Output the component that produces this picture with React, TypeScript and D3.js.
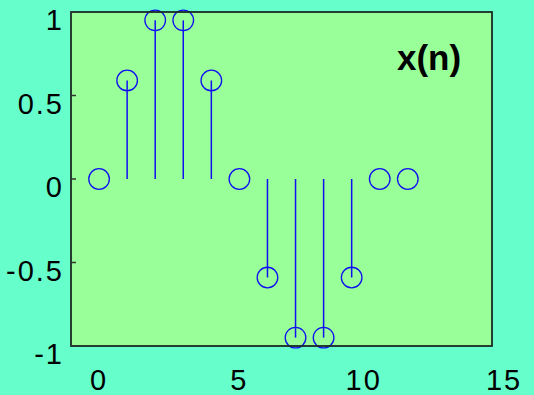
import React from "react";
import * as d3 from "d3";

const nValues = [0, 1, 2, 3, 4, 5, 6, 7, 8, 9, 10, 11];
const xValues = [0, 0.59, 0.95, 0.95, 0.59, 0, -0.59, -0.95, -0.95, -0.59, 0, 0];
const xTickValues = [0, 5, 10, 15];
const yTickValues = [-1, -0.5, 0, 0.5, 1];
const yTickLabels = ["-1", "-0.5", "0", "0.5", "1"];
const title = "x(n)";

const W = 534;
const H = 395;
const left = 71;
const right = 492;
const top = 12;
const bottom = 346;

export default function App() {
  const x = d3.scaleLinear().domain([-1, 14]).range([left, right]);
  const y = d3.scaleLinear().domain([-1, 1]).range([bottom, top]);
  const font = "'Liberation Sans', Arial, sans-serif";
  return (
    <svg
      width={W}
      height={H}
      style={{ position: "absolute", left: 0, top: 0, display: "block" }}
    >
      <rect x={0} y={0} width={W} height={H} fill="#66FFCC" />
      <rect x={left} y={top} width={right - left} height={bottom - top} fill="#99FF99" />
      {nValues.map((n, i) =>
        xValues[i] !== 0 ? (
          <line
            key={"s" + n}
            x1={x(n)}
            x2={x(n)}
            y1={y(0)}
            y2={y(xValues[i])}
            stroke="#1010F0"
            strokeWidth={1.5}
          />
        ) : null
      )}
      {nValues.map((n, i) => (
        <circle
          key={"c" + n}
          cx={x(n)}
          cy={y(xValues[i])}
          r={10.3}
          fill="none"
          stroke="#1010F0"
          strokeWidth={1.3}
        />
      ))}
      <rect
        x={left}
        y={top}
        width={right - left}
        height={bottom - top}
        fill="none"
        stroke="#1a2a22"
        strokeWidth={1.8}
      />
      {yTickValues.map((v) => (
        <line
          key={"yt" + v}
          x1={left}
          x2={left + 5}
          y1={y(v)}
          y2={y(v)}
          stroke="#333"
          strokeWidth={1.5}
        />
      ))}
      {yTickValues.map((v, i) => (
        <text
          key={"yl" + v}
          x={64}
          y={y(v) + 18}
          textAnchor="end"
          fontFamily={font}
          fontSize={29}
          letterSpacing={2}
          fill="#000"
        >
          {yTickLabels[i]}
        </text>
      ))}
      {xTickValues.map((v) => {
        const label = String(v);
        return (
          <text
            key={"xl" + v}
            x={x(v) - (label.length - 1) * 16}
            y={390}
            textAnchor="middle"
            fontFamily={font}
            fontSize={29}
            letterSpacing={2}
            fill="#000"
          >
            {label}
          </text>
        );
      })}
      <text
        x={397}
        y={69.5}
        fontFamily={font}
        fontSize={35}
        fontWeight="bold"
        fill="#000"
      >
        {title}
      </text>
    </svg>
  );
}
